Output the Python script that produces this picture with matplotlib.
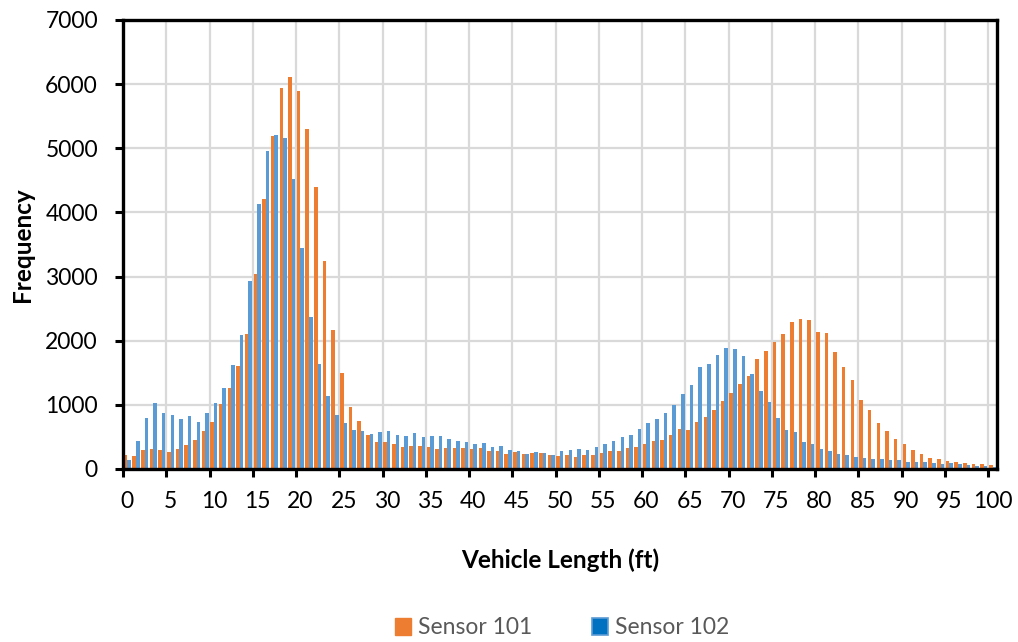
import numpy as np
import matplotlib
matplotlib.use('Agg')
import matplotlib.pyplot as plt
from matplotlib.patches import Patch

plt.rcParams['font.family'] = ['Lato', 'DejaVu Sans']

# longitud de vehiculo (ft) y frecuencias por sensor
lengths = list(range(0, 101))

sensor_101 = [219, 208, 297, 313, 297, 271, 313, 370, 453, 594,
              740, 1010, 1263, 1599, 2099, 3042, 4203, 5193, 5932, 6115,
              5891, 5297, 4396, 3250, 2167, 1495, 974, 750, 536, 427,
              417, 391, 344, 354, 359, 344, 313, 333, 323, 323,
              307, 323, 286, 286, 234, 266, 229, 250, 250, 224,
              203, 219, 193, 219, 214, 250, 281, 286, 323, 341,
              388, 443, 448, 526, 628, 609, 740, 813, 917, 1057,
              1177, 1328, 1443, 1714, 1833, 1984, 2099, 2295, 2339, 2328,
              2141, 2115, 1823, 1583, 1385, 1078, 927, 719, 599, 464,
              396, 297, 229, 167, 151, 120, 104, 89, 73, 73,
              68]

sensor_102 = [140, 438, 792, 1036, 870, 839, 781, 823, 740, 870,
              1023, 1260, 1625, 2086, 2938, 4125, 4958, 5208, 5156, 4516,
              3448, 2370, 1635, 1130, 844, 714, 615, 589, 542, 573,
              589, 526, 521, 568, 495, 516, 516, 464, 438, 422,
              396, 398, 339, 354, 292, 281, 240, 266, 250, 224,
              276, 297, 313, 292, 339, 385, 443, 503, 536, 630,
              724, 774, 880, 1000, 1167, 1307, 1583, 1641, 1776, 1885,
              1875, 1766, 1479, 1219, 1042, 792, 609, 573, 417, 391,
              313, 286, 234, 214, 193, 172, 161, 156, 146, 146,
              115, 115, 104, 94, 73, 89, 73, 57, 47, 47,
              35]

series_names = ['Sensor 101', 'Sensor 102']
orange = '#ED7D31'
blue = '#5B9BD5'

fig = plt.figure(figsize=(10.18, 6.42), dpi=100)
ax = fig.add_axes([0.1208, 0.2695, 0.8585, 0.6994])

x = np.arange(len(lengths))
w = 0.41
ax.bar(x - w / 2, sensor_101, width=w, color=orange, zorder=3)
ax.bar(x + w / 2, sensor_102, width=w, color=blue, zorder=3)

ax.set_xlim(-0.5, len(lengths) - 0.5)
ax.set_ylim(0, 7000)

# etiquetas cada 5 ft, marcas y rejilla en los limites de categoria
ax.set_xticks(x[::5])
ax.set_xticklabels([str(v) for v in lengths[::5]])
ax.set_xticks(np.arange(-0.5, len(lengths), 5), minor=True)
ax.tick_params(axis='x', which='major', length=0, pad=16, labelsize=16.5)
ax.tick_params(axis='x', which='minor', length=6, width=2.2, color='black')
ax.set_yticks(range(0, 7001, 1000))
ax.tick_params(axis='y', which='major', length=6, width=2.2, pad=12,
               labelsize=16.5)

ax.grid(True, axis='y', color='#D9D9D9', linewidth=1.6, zorder=0)
ax.grid(True, axis='x', which='minor', color='#D9D9D9', linewidth=1.6,
        zorder=0)
ax.set_axisbelow(True)

for s in ax.spines.values():
    s.set_linewidth(2.4)
    s.set_color('black')
    s.set_zorder(4)

ax.set_xlabel('Vehicle Length (ft)', fontsize=17.5, fontweight='bold',
              labelpad=26)
ax.set_ylabel('Frequency', fontsize=17.5, fontweight='bold', labelpad=8)

handles = [Patch(facecolor=orange, edgecolor=orange),
           Patch(facecolor='#0070C0', edgecolor=blue, linewidth=1.2)]
fig.legend(handles, series_names, loc='center',
           bbox_to_anchor=(562 / 1018, 1 - 628 / 642), ncol=2,
           frameon=False, fontsize=16.5, handlelength=0.7,
           handleheight=0.7, handletextpad=0.3, columnspacing=2.6,
           labelcolor='#595959')

fig.savefig('out.png', dpi=100)
